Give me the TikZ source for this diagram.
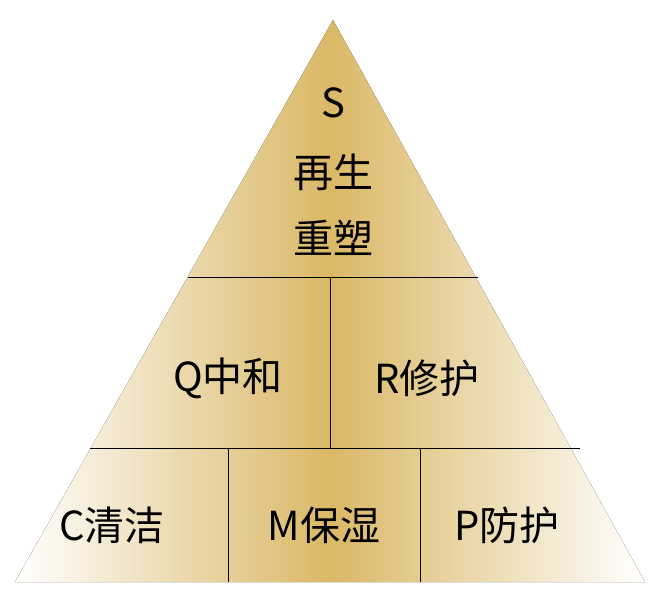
\documentclass[tikz,border=0pt]{standalone}
\usepackage{fontspec}
\setmainfont{Noto Sans CJK SC}
\begin{document}
\begin{tikzpicture}[x=1pt,y=-1pt,
  lab/.style={font=\fontsize{40}{44}\selectfont, inner sep=0pt},
  sep/.style={line width=1pt, black}]
\useasboundingbox (0,0) rectangle (660,595);
\fill[left color=white, right color=white, middle color={rgb,255:red,218;green,184;blue,102}, shading angle=90]
  (333,20) -- (645,582) -- (15,582) -- cycle;
\coordinate (a1) at (188,277); \coordinate (a2) at (478,277);
\coordinate (v1) at (330,277); \coordinate (v2) at (330,448);
\coordinate (b1) at (90,448); \coordinate (b2) at (580,448);
\coordinate (w1) at (228,448); \coordinate (w2) at (228,582);
\coordinate (u1) at (420,448); \coordinate (u2) at (420,582);
\draw[sep] (a1) -- (a2); \draw[sep] (v1) -- (v2);
\draw[sep] (b1) -- (b2); \draw[sep] (w1) -- (w2); \draw[sep] (u1) -- (u2);
\node[lab] (s) at (333,103) {S};
\node[lab] (s2) at (333,172) {再生};
\node[lab] (s3) at (333,238) {重塑};
\node[lab] (q) at (228,378) {Q中和};
\node[lab] (r) at (427,378) {R修护};
\node[lab] (c) at (112,525) {C清洁};
\node[lab] (m) at (324,525) {M保湿};
\node[lab] (p) at (507,525) {P防护};
\end{tikzpicture}
\end{document}
